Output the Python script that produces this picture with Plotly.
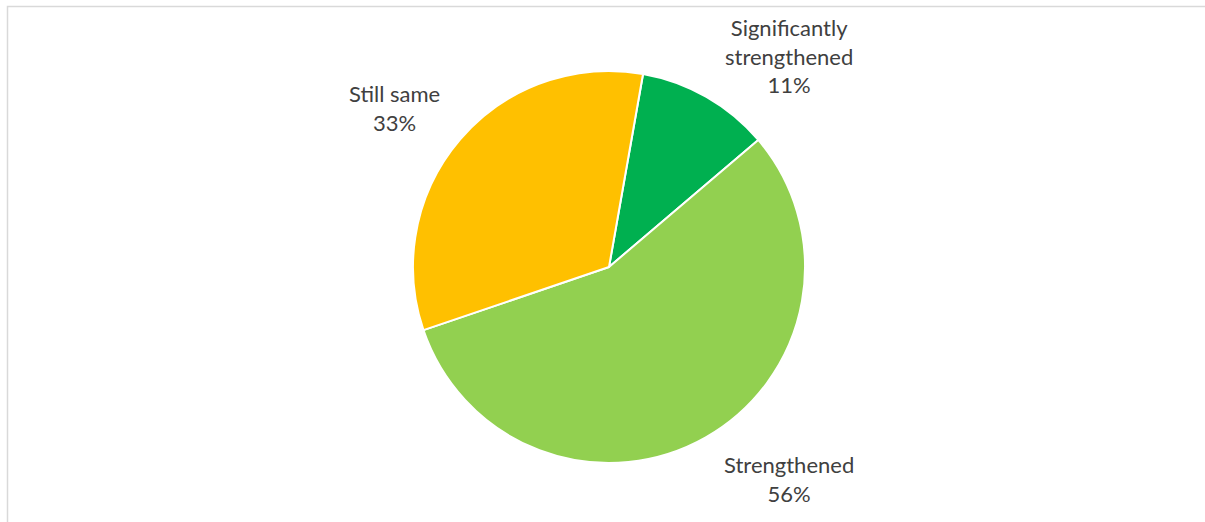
import plotly.graph_objects as go

labels = ["Significantly strengthened", "Strengthened", "Still same"]
label_lines = ["Significantly<br>strengthened", "Strengthened", "Still same"]
values = [11, 56, 33]
colors = ["#00B050", "#92D050", "#FFC000"]

W, H = 1205, 522
cx, cy, r = 609, 267, 196

# label centres in pixels (layout only)
label_pos = [(789, 56), (789, 479), (394, 108)]

fig = go.Figure(go.Pie(
    labels=labels,
    values=values,
    sort=False,
    direction="clockwise",
    rotation=10,
    marker=dict(colors=colors, line=dict(color="white", width=2)),
    textinfo="none",
    hoverinfo="label+percent",
    showlegend=False,
    domain=dict(x=[(cx - r) / W, (cx + r) / W], y=[1 - (cy + r) / H, 1 - (cy - r) / H]),
))

total = sum(values)
annotations = []
for txt, v, (px, py) in zip(label_lines, values, label_pos):
    annotations.append(dict(
        x=px / W, y=1 - py / H, xref="paper", yref="paper",
        text=f"{txt}<br>{round(100 * v / total)}%",
        showarrow=False, xanchor="center", yanchor="middle", align="center",
        font=dict(family="Lato, Liberation Sans, sans-serif", size=22, color="#404040"),
    ))

fig.update_layout(
    width=W, height=H,
    margin=dict(l=0, r=0, t=0, b=0),
    paper_bgcolor="white",
    plot_bgcolor="white",
    annotations=annotations,
    shapes=[dict(type="rect", xref="paper", yref="paper",
                 x0=7.5 / W, y0=-0.02, x1=1.02, y1=1 - 6.5 / H,
                 line=dict(color="#D9D9D9", width=1.5), fillcolor="rgba(0,0,0,0)", layer="below")],
)

fig.write_html("out.html")
